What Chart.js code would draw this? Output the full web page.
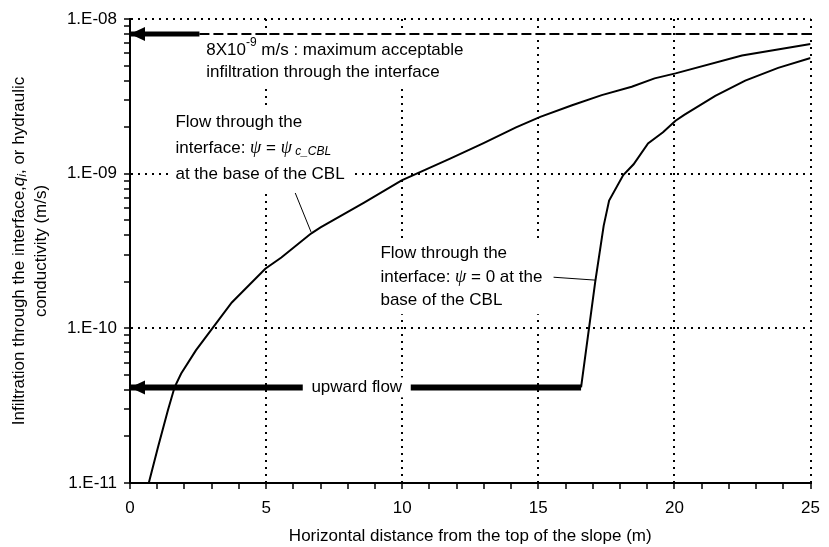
<!DOCTYPE html>
<html>
<head>
<meta charset="utf-8">
<script src="https://cdn.jsdelivr.net/npm/chart.js@4.4.1/dist/chart.umd.min.js"></script>
<style>
  body { margin: 0; background: #fff; }
  canvas { display: block; }
</style>
</head>
<body>
<canvas id="myChart" width="829" height="547"></canvas>
<script>
'use strict';

/*          DATA          */
// flow through the interface with psi = psi_c_CBL at the base of the CBL
const cblDist = [0.69, 1.03, 1.39, 1.64, 1.88, 2.42, 2.97, 3.74, 4.97, 5.56, 6.65, 7.0, 8.6, 9.98, 11.76, 12.97, 14.18, 15.07, 16.24, 17.33, 18.43, 19.27, 20.04, 22.48, 25];
const cblFlow = [1.0e-11, 1.71e-11, 2.94e-11, 4.17e-11, 5.1e-11, 7.2e-11, 9.7e-11, 1.47e-10, 2.43e-10, 2.87e-10, 4.1e-10, 4.5e-10, 6.5e-10, 9.06e-10, 1.25e-9, 1.57e-9, 1.99e-9, 2.33e-9, 2.77e-9, 3.22e-9, 3.65e-9, 4.13e-9, 4.45e-9, 5.8e-9, 6.9e-9];
// flow through the interface with psi = 0 at the base of the CBL
const zeroDist = [16.57, 17.09, 17.4, 17.6, 18.12, 18.5, 19.03, 19.58, 20.04, 20.36, 21.5, 22.6, 23.81, 25];
const zeroFlow = [4.15e-11, 2.0e-10, 4.6e-10, 6.7e-10, 9.8e-10, 1.15e-9, 1.57e-9, 1.85e-9, 2.2e-9, 2.4e-9, 3.18e-9, 4.0e-9, 4.83e-9, 5.6e-9];
// maximum acceptable infiltration (m/s) and where its arrow starts
const limitFlow = 8e-9;
const limitArrowDist = [0, 2.55];
const limitLineDist = [2.55, 25];
// upward flow arrow
const upwardFlow = 4.15e-11;
const upwardDist = [0, 16.57];
// axes
const xTicks = [0, 1, 2, 3, 4, 5, 6, 7, 8, 9, 10, 11, 12, 13, 14, 15, 16, 17, 18, 19, 20, 21, 22, 23, 24, 25];
const yMajorTicks = [1e-11, 1e-10, 1e-9, 1e-8];
const yTickLabels = ['1.E-11', '1.E-10', '1.E-09', '1.E-08'];
const yMinorSteps = [2, 3, 4, 5, 6, 7, 8, 9];

/*          STYLE          */
const SANS = '"Liberation Sans", Arial, sans-serif';
const F = `17px ${SANS}`;
const SMALL = `12px ${SANS}`;
const ITAL = `italic 17px ${SANS}`;
const ITAL_SMALL = `italic 12px ${SANS}`;
const PSI = `italic 18px "Liberation Serif", serif`;

// text blocks, anchored at data coordinates (left edge, centre of first line)
const notes = [
  { x: 2.8, y: 6.3e-9, lh: 22, lines: [
    [['8X10', F], ['-9', SMALL, -7], [' m/s : maximum acceptable', F]],
    [['infiltration through the interface', F]]
  ] },
  { x: 1.67, y: 2.15e-9, lh: 26, lines: [
    [['Flow through the', F]],
    [['interface: ', F], ['\u03c8', PSI], [' = ', F], ['\u03c8', PSI], [' c_CBL', ITAL_SMALL, 3]],
    [['at the base of the CBL', F]]
  ] },
  { x: 9.2, y: 3.05e-10, lh: 23.5, lines: [
    [['Flow through the', F]],
    [['interface: ', F], ['\u03c8', PSI], [' = 0 at the', F]],
    [['base of the CBL', F]]
  ] }
];
const centredNotes = [
  { x: 8.33, y: upwardFlow, text: 'upward flow', boxWidth: 108 }
];
const leaders = [
  { x1: 6.07, y1: 7.5e-10, x2: 6.65, y2: 4.2e-10 },
  { x1: 15.56, y1: 2.14e-10, x2: 17.09, y2: 2.05e-10 }
];
const arrowHeads = [
  { x: 0, y: limitFlow },
  { x: 0, y: upwardFlow }
];

/*          HELPERS          */
function toPoints(xs, ys) {
  return xs.map((x, i) => ({ x: x, y: ys[i] }));
}

function flat(xs, value) {
  return xs.map(x => ({ x: x, y: value }));
}

function runsWidth(ctx, runs) {
  let w = 0;
  runs.forEach(r => {
    ctx.font = r[1];
    w += ctx.measureText(r[0]).width;
  });
  return w;
}

function drawRuns(ctx, runs, x, y) {
  let cx = x;
  runs.forEach(r => {
    ctx.font = r[1];
    ctx.fillText(r[0], cx, y + (r[2] || 0));
    cx += ctx.measureText(r[0]).width;
  });
}

function isMajor(value) {
  return yMajorTicks.findIndex(v => Math.abs(v - value) / v < 1e-6);
}

// draws the arrowheads, leader lines, notes and the rotated y title
const annotate = {
  id: 'annotate',
  afterDatasetsDraw(chart) {
    const ctx = chart.ctx;
    const xs = chart.scales.x;
    const ys = chart.scales.y;
    ctx.save();
    ctx.fillStyle = '#000';
    ctx.strokeStyle = '#000';

    arrowHeads.forEach(a => {
      const px = xs.getPixelForValue(a.x);
      const py = ys.getPixelForValue(a.y);
      ctx.beginPath();
      ctx.moveTo(px, py);
      ctx.lineTo(px + 15, py - 7);
      ctx.lineTo(px + 15, py + 7);
      ctx.closePath();
      ctx.fill();
    });

    ctx.textBaseline = 'middle';
    ctx.textAlign = 'left';
    notes.forEach(n => {
      const left = xs.getPixelForValue(n.x);
      const top = ys.getPixelForValue(n.y);
      const w = Math.max(...n.lines.map(l => runsWidth(ctx, l)));
      ctx.fillStyle = '#fff';
      ctx.fillRect(left - 6, top - n.lh / 2 - 2, w + 12, n.lh * n.lines.length + 4);
      ctx.fillStyle = '#000';
      n.lines.forEach((l, i) => drawRuns(ctx, l, left, top + i * n.lh));
    });

    centredNotes.forEach(n => {
      const cx = xs.getPixelForValue(n.x);
      const cy = ys.getPixelForValue(n.y);
      ctx.fillStyle = '#fff';
      ctx.fillRect(cx - n.boxWidth / 2, cy - 10, n.boxWidth, 20);
      ctx.fillStyle = '#000';
      ctx.font = F;
      ctx.textAlign = 'center';
      ctx.fillText(n.text, cx, cy);
      ctx.textAlign = 'left';
    });

    ctx.lineWidth = 1;
    leaders.forEach(l => {
      ctx.beginPath();
      ctx.moveTo(xs.getPixelForValue(l.x1), ys.getPixelForValue(l.y1));
      ctx.lineTo(xs.getPixelForValue(l.x2), ys.getPixelForValue(l.y2));
      ctx.stroke();
    });
    ctx.restore();
  },
  afterDraw(chart) {
    const ctx = chart.ctx;
    const area = chart.chartArea;
    const cy = (area.top + area.bottom) / 2;
    const line1 = [['Infiltration through the interface,', F], ['q', ITAL], ['i', ITAL_SMALL, 4], [', or hydraulic', F]];
    const line2 = [['conductivity (m/s)', F]];
    ctx.save();
    ctx.fillStyle = '#000';
    ctx.textBaseline = 'middle';
    ctx.textAlign = 'left';
    [[line1, 19], [line2, 41]].forEach(([runs, px]) => {
      ctx.save();
      ctx.translate(px, cy);
      ctx.rotate(-Math.PI / 2);
      drawRuns(ctx, runs, -runsWidth(ctx, runs) / 2, 0);
      ctx.restore();
    });
    ctx.restore();
  }
};

/*          CHART          */
Chart.defaults.font.family = SANS;
Chart.defaults.font.size = 17;
Chart.defaults.color = '#000';

const lineStyle = { borderColor: '#000', borderWidth: 2, pointRadius: 0, tension: 0, fill: false };

const myChart = new Chart(document.getElementById('myChart'), {
  type: 'scatter',
  data: {
    datasets: [
      Object.assign({ label: 'psi = psi_c_CBL', data: toPoints(cblDist, cblFlow), showLine: true }, lineStyle),
      Object.assign({ label: 'psi = 0', data: toPoints(zeroDist, zeroFlow), showLine: true }, lineStyle),
      Object.assign({}, lineStyle, { label: 'limit', data: flat(limitLineDist, limitFlow), showLine: true, borderDash: [10, 4] }),
      Object.assign({}, lineStyle, { label: 'limit arrow', data: flat(limitArrowDist, limitFlow), showLine: true, borderWidth: 5, borderCapStyle: 'butt' }),
      Object.assign({}, lineStyle, { label: 'upward flow', data: flat(upwardDist, upwardFlow), showLine: true, borderWidth: 6, borderCapStyle: 'butt' })
    ]
  },
  options: {
    responsive: false,
    animation: false,
    layout: { padding: { top: 19, right: 10, left: 0, bottom: 0 } },
    plugins: {
      legend: { display: false },
      tooltip: { enabled: false }
    },
    scales: {
      x: {
        type: 'linear',
        min: 0,
        max: 25,
        afterFit: (scale) => { scale.height = 64; },
        afterBuildTicks: (scale) => { scale.ticks = xTicks.map(v => ({ value: v })); },
        ticks: {
          autoSkip: false,
          maxRotation: 0,
          padding: 9,
          callback: (value) => (value % 5 === 0 ? String(value) : '')
        },
        grid: {
          color: (c) => (c.tick && c.tick.value % 5 === 0 ? '#000' : 'rgba(0,0,0,0)'),
          lineWidth: 2,
          tickColor: '#000',
          tickWidth: 1.5,
          tickLength: 6
        },
        border: { display: true, color: '#000', width: 2, dash: [2, 5] },
        title: {
          display: true,
          text: 'Horizontal distance from the top of the slope (m)',
          padding: { top: 0, bottom: 0 }
        }
      },
      y: {
        type: 'logarithmic',
        min: yMajorTicks[0],
        max: yMajorTicks[yMajorTicks.length - 1],
        afterFit: (scale) => { scale.width = 130; },
        afterBuildTicks: (scale) => {
          const ticks = [];
          yMajorTicks.forEach((v, i) => {
            ticks.push({ value: v });
            if (i < yMajorTicks.length - 1) {
              yMinorSteps.forEach(m => ticks.push({ value: m * v }));
            }
          });
          scale.ticks = ticks;
        },
        ticks: {
          autoSkip: false,
          padding: 7,
          callback: (value) => {
            const i = isMajor(value);
            return i >= 0 ? yTickLabels[i] : '';
          }
        },
        grid: {
          color: (c) => (c.tick && isMajor(c.tick.value) >= 0 ? '#000' : 'rgba(0,0,0,0)'),
          lineWidth: 2,
          tickColor: '#000',
          tickWidth: 1.5,
          tickLength: 6
        },
        border: { display: true, color: '#000', width: 2, dash: [2, 5] },
        title: { display: false }
      }
    }
  },
  plugins: [annotate]
});
</script>
</body>
</html>
